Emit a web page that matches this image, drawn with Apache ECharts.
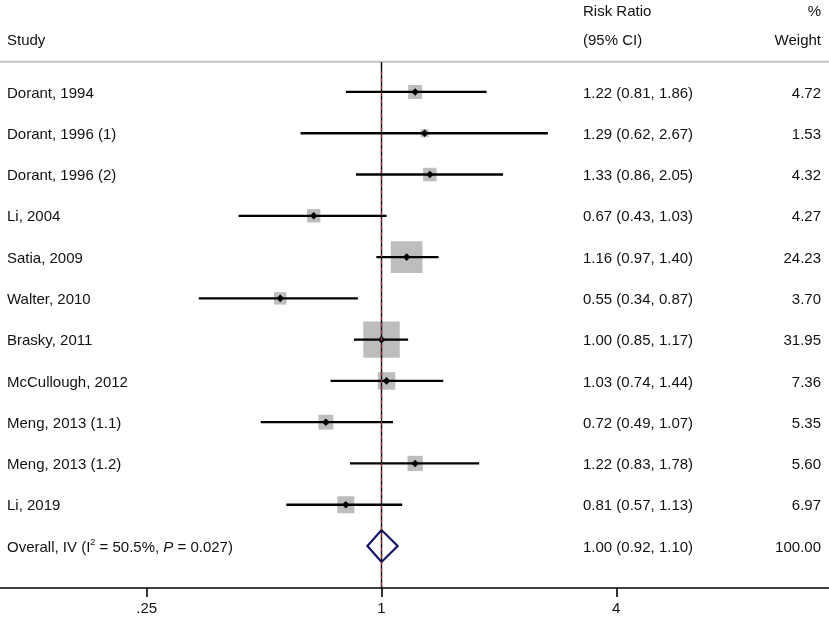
<!DOCTYPE html>
<html>
<head>
<meta charset="utf-8">
<title>Forest plot</title>
<script src="https://cdn.jsdelivr.net/npm/echarts@6/dist/echarts.min.js"></script>
<style>
  html, body { margin: 0; padding: 0; background: #fff; }
  #main { width: 829px; height: 618px; }
</style>
</head>
<body>
<div id="main"></div>
<script type="text/javascript">
// studies and their estimates
var studies = ['Dorant, 1994', 'Dorant, 1996 (1)', 'Dorant, 1996 (2)', 'Li, 2004', 'Satia, 2009',
               'Walter, 2010', 'Brasky, 2011', 'McCullough, 2012', 'Meng, 2013 (1.1)', 'Meng, 2013 (1.2)', 'Li, 2019'];
var rr     = [1.22, 1.29, 1.33, 0.67, 1.16, 0.55, 1.00, 1.03, 0.72, 1.22, 0.81];
var lower  = [0.81, 0.62, 0.86, 0.43, 0.97, 0.34, 0.85, 0.74, 0.49, 0.83, 0.57];
var upper  = [1.86, 2.67, 2.05, 1.03, 1.40, 0.87, 1.17, 1.44, 1.07, 1.78, 1.13];
var weight = [4.72, 1.53, 4.32, 4.27, 24.23, 3.70, 31.95, 7.36, 5.35, 5.60, 6.97];

// pooled result
var overallLabel = 'Overall, IV (I{sup|2} = 50.5%, {it|P} = 0.027)';
var overallRR = 1.00, overallLower = 0.92, overallUpper = 1.10, overallWeight = 100.00;

// axis ticks (risk ratio, log scale)
var tickValues = [0.25, 1, 4];
var tickLabels = ['.25', '1', '4'];

var FONT = '"Liberation Sans", Arial, sans-serif';
var FS = '15px ';
var colName = 7, colCI = 583, colWeight = 821;   // text column x positions
var boxScale = 6.45;                                // box side = sqrt(weight) * boxScale
var dy = 1.5;                                       // small nudge so text sits on the row line

function lg(v) { return Math.log(v) / Math.LN2; }

var rowData = studies.map(function (s, i) {
  return [lg(rr[i]), i, lg(lower[i]), lg(upper[i]), weight[i]];
});
var nRows = studies.length;   // overall row sits at index nRows

var myChart = echarts.init(document.getElementById('main'));

function txt(x, y, s, align) {
  return { type: 'text', x: x, y: y, style: { text: s, font: FS + FONT, fill: '#111', align: align || 'left', verticalAlign: 'middle' } };
}

var option = {
  animation: false,
  grid: { left: 0, right: 0, top: 62, bottom: 30 },
  xAxis: {
    type: 'value',
    min: -3.25,
    max: 3.812,
    splitLine: { show: false },
    axisLine: { show: true, onZero: false, lineStyle: { color: '#000', width: 1.6 } },
    axisTick: { show: true, length: 9, customValues: tickValues.map(lg), lineStyle: { color: '#000', width: 1.6 } },
    axisLabel: {
      customValues: tickValues.map(lg),
      margin: 13,
      color: '#111',
      fontSize: 15,
      fontFamily: FONT,
      formatter: function (v) {
        for (var k = 0; k < tickValues.length; k++) {
          if (Math.abs(lg(tickValues[k]) - v) < 1e-6) return tickLabels[k];
        }
        return '';
      }
    }
  },
  yAxis: {
    type: 'value',
    show: false,
    inverse: true,
    min: -0.726,
    max: 12.017
  },
  graphic: [
    { type: 'line', shape: { x1: 0, y1: 61.7, x2: 829, y2: 61.7 }, style: { stroke: '#c2c2c2', lineWidth: 2 } },
    txt(colName, 40.5, 'Study'),
    txt(colCI, 12, 'Risk Ratio'),
    txt(colCI, 40.5, '(95% CI)'),
    txt(colWeight, 12, '%', 'right'),
    txt(colWeight, 40.5, 'Weight', 'right')
  ],
  series: [
    {
      // weight boxes
      type: 'custom',
      z: 1,
      data: rowData,
      renderItem: function (params, api) {
        var c = api.coord([api.value(0), api.value(1)]);
        var s = Math.sqrt(api.value(4)) * boxScale;
        return { type: 'rect', shape: { x: c[0] - s / 2, y: c[1] - s / 2, width: s, height: s }, style: { fill: '#bdbdbd' } };
      }
    },
    {
      // reference lines
      type: 'custom',
      z: 2,
      data: [],
      renderItem: function () { return null; },
      markLine: {
        silent: true,
        symbol: 'none',
        label: { show: false },
        data: [
          [{ coord: [0, -0.726], lineStyle: { color: '#000', width: 1.4, type: 'solid' } }, { coord: [0, 12.017] }],
          [{ coord: [lg(overallRR), -0.5], lineStyle: { color: '#9c2a35', width: 1.2, type: [4, 3] } }, { coord: [lg(overallRR), 12.017] }]
        ]
      }
    },
    {
      // CI lines, point estimates and text columns
      type: 'custom',
      z: 3,
      data: rowData,
      renderItem: function (params, api) {
        var i = params.dataIndex;
        var c = api.coord([api.value(0), api.value(1)]);
        var lo = api.coord([api.value(2), api.value(1)]);
        var hi = api.coord([api.value(3), api.value(1)]);
        var d = 3.8;
        return {
          type: 'group',
          children: [
            { type: 'line', shape: { x1: lo[0], y1: c[1], x2: hi[0], y2: c[1] }, style: { stroke: '#000', lineWidth: 2.3 } },
            { type: 'polygon', shape: { points: [[c[0] - d, c[1]], [c[0], c[1] - d], [c[0] + d, c[1]], [c[0], c[1] + d]] }, style: { fill: '#000' } },
            txt(colName, c[1] + dy, studies[i]),
            txt(colCI, c[1] + dy, rr[i].toFixed(2) + ' (' + lower[i].toFixed(2) + ', ' + upper[i].toFixed(2) + ')'),
            txt(colWeight, c[1] + dy, weight[i].toFixed(2), 'right')
          ]
        };
      }
    },
    {
      // pooled diamond
      type: 'custom',
      z: 4,
      data: [[lg(overallRR), nRows, lg(overallLower), lg(overallUpper)]],
      renderItem: function (params, api) {
        var c = api.coord([api.value(0), api.value(1)]);
        var lo = api.coord([api.value(2), api.value(1)]);
        var hi = api.coord([api.value(3), api.value(1)]);
        var h = 16;
        return {
          type: 'group',
          children: [
            { type: 'polygon', shape: { points: [[lo[0], c[1]], [c[0], c[1] - h], [hi[0], c[1]], [c[0], c[1] + h]] },
              style: { fill: '#fff', stroke: '#14146b', lineWidth: 2.2 } },
            { type: 'text', x: colName, y: c[1] + dy, style: {
                text: overallLabel, font: FS + FONT, fill: '#111', verticalAlign: 'middle',
                rich: {
                  sup: { fontSize: 9, fontFamily: FONT, padding: [0, 0, 10, 0] },
                  it: { fontSize: 15, fontFamily: FONT, fontStyle: 'italic' }
                } } },
            txt(colCI, c[1] + dy, overallRR.toFixed(2) + ' (' + overallLower.toFixed(2) + ', ' + overallUpper.toFixed(2) + ')'),
            txt(colWeight, c[1] + dy, overallWeight.toFixed(2), 'right')
          ]
        };
      }
    }
  ]
};

myChart.setOption(option);
</script>
</body>
</html>
